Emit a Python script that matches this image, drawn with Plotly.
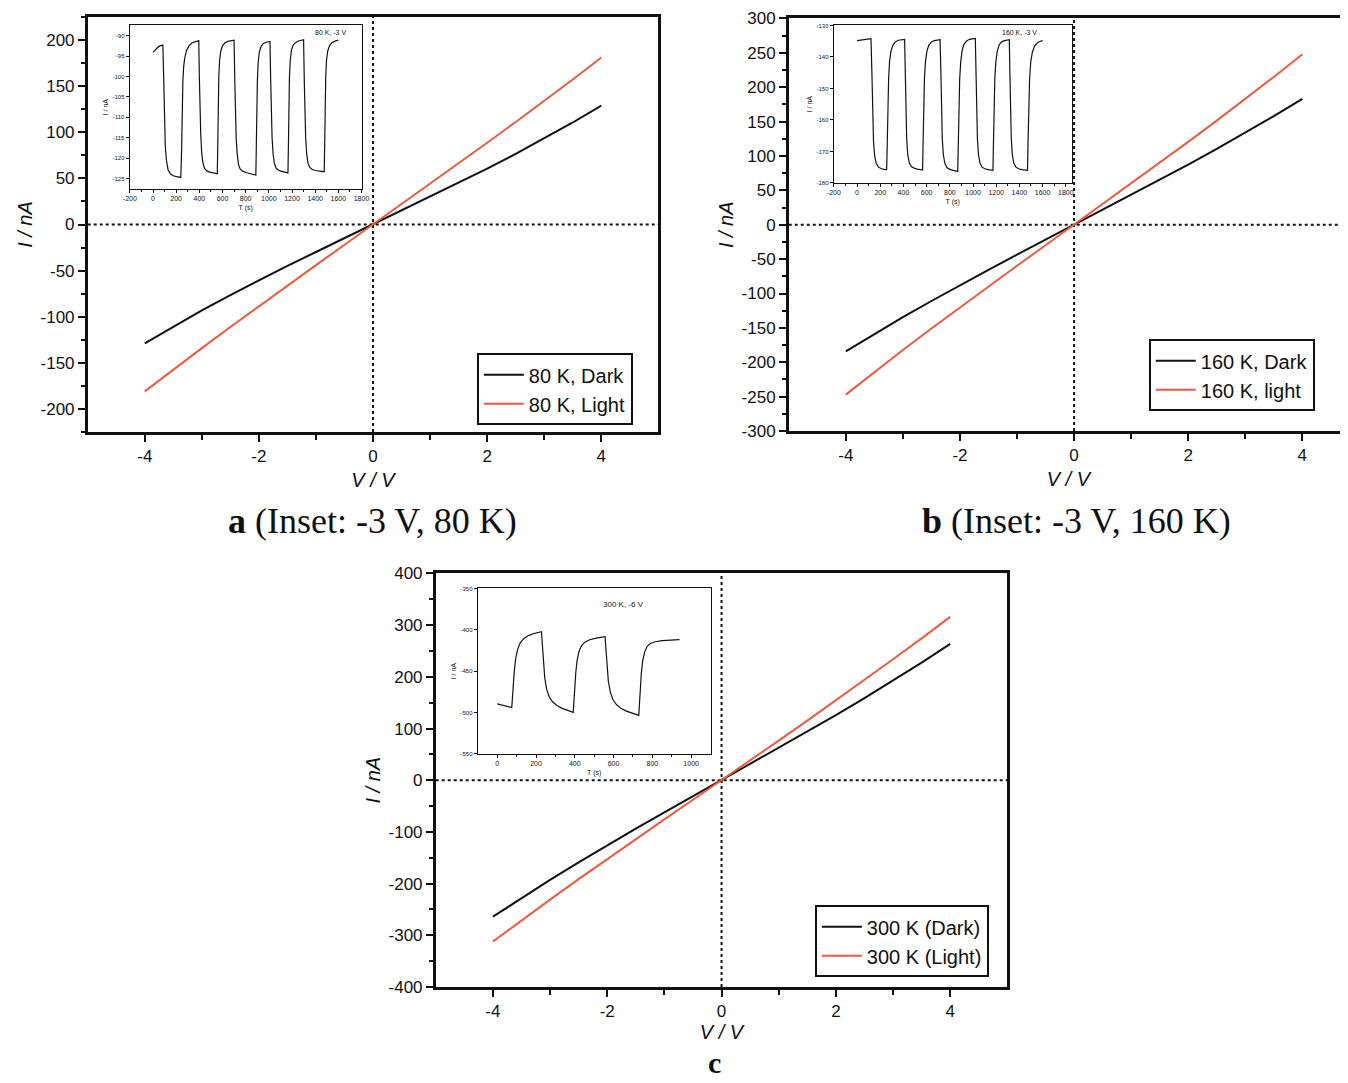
import plotly.graph_objects as go

# figure size; the photographed page maps figure pixel f to picture pixel ~ 0.986*f + 15.5
FW, FH = 1348, 1083
S, O = 0.986, 15.5

# ---------------- main I-V data ----------------
V = [-4, -3.5, -3, -2.5, -2, -1.5, -1, -0.5, 0, 0.5, 1, 1.5, 2, 2.5, 3, 3.5, 4]

a_dark = [-128.8, -110.6, -93.2, -76.5, -60.5, -44.9, -29.8, -14.8, 0,
          14.8, 29.8, 44.9, 60.5, 76.5, 93.2, 110.6, 128.8]
a_light = [-181.0, -157.3, -134.1, -111.2, -88.6, -66.2, -44.1, -22.0, 0,
           22.0, 44.1, 66.2, 88.6, 111.2, 134.1, 157.3, 181.0]

b_dark = [-184.1, -158.9, -134.5, -110.9, -88.0, -65.5, -43.5, -21.7, 0,
          21.6, 43.3, 65.2, 87.6, 110.4, 133.8, 158.1, 183.2]
b_light = [-247.1, -214.3, -182.3, -151.0, -120.1, -89.7, -59.6, -29.8, 0,
           29.9, 59.8, 89.9, 120.5, 151.5, 182.9, 215.0, 248.0]

c_dark = [-264.0, -227.7, -192.8, -158.9, -126.0, -93.8, -62.3, -31.0, 0,
          31.0, 62.3, 93.8, 126.0, 158.9, 192.8, 227.7, 264.0]
c_light = [-312.0, -271.0, -230.9, -191.3, -152.4, -113.9, -75.8, -37.8, 0,
           38.3, 76.7, 115.4, 154.4, 193.8, 234.0, 274.5, 316.0]

# ---------------- inset data ----------------
ia_t = [0, 20, 40, 60, 85,
        92, 98, 106, 116, 130, 150, 175, 205, 240,
        247, 252, 258, 265, 275, 290, 310, 335, 365, 395,
        400, 405, 412, 420, 430, 445, 465, 490, 520, 555,
        559, 563, 568, 575, 585, 600, 620, 645, 675, 700,
        706, 711, 718, 727, 738, 752, 772, 800, 840, 888,
        892, 896, 901, 908, 918, 933, 953, 975, 995, 1010,
        1016, 1021, 1028, 1037, 1048, 1062, 1082, 1110, 1140, 1165,
        1169, 1173, 1178, 1185, 1195, 1210, 1230, 1255, 1280, 1300,
        1306, 1311, 1318, 1327, 1338, 1352, 1372, 1400, 1440, 1478,
        1482, 1486, 1491, 1498, 1508, 1523, 1543, 1565, 1585, 1600]
ia_i = [-94.1, -93.4, -92.9, -92.5, -92.3,
        -100, -110, -117, -120.5, -122.8, -123.8, -124.3, -124.5, -124.7,
        -118, -108, -101, -97.5, -95.3, -93.6, -92.5, -91.8, -91.4, -91.2,
        -100, -108, -114, -118.5, -121, -122.5, -123.1, -123.4, -123.6, -123.8,
        -117, -107, -100, -96, -93.8, -92.5, -91.8, -91.4, -91.2, -91.1,
        -101, -109, -115, -119, -121.5, -122.6, -123.1, -123.5, -123.8, -124.1,
        -117, -108, -101, -96.5, -94, -92.6, -91.9, -91.6, -91.5, -91.4,
        -101, -109, -115, -119, -121.3, -122.4, -122.9, -123.2, -123.4, -123.6,
        -117, -107, -100, -96, -93.6, -92.3, -91.7, -91.3, -91.1, -91.0,
        -101, -109, -115, -119, -121.2, -122.2, -122.7, -123.0, -123.2, -123.3,
        -117, -107, -100, -96, -93.8, -92.5, -91.8, -91.4, -91.2, -91.1]

ib_t = [0, 40, 80, 120,
        128, 134, 142, 152, 165, 185, 210, 235, 255,
        260, 265, 272, 280, 292, 308, 330, 355, 385, 410,
        416, 421, 428, 437, 450, 468, 492, 520, 545, 565,
        569, 574, 581, 590, 602, 618, 640, 665, 692, 716,
        723, 728, 735, 744, 757, 775, 800, 830, 850, 868,
        873, 878, 885, 894, 906, 922, 944, 970, 995, 1020,
        1026, 1031, 1038, 1047, 1060, 1078, 1102, 1130, 1152, 1172,
        1176, 1181, 1188, 1197, 1209, 1225, 1247, 1272, 1295, 1313,
        1318, 1323, 1330, 1339, 1352, 1370, 1394, 1422, 1448, 1470,
        1474, 1480, 1488, 1498, 1512, 1530, 1552, 1575, 1600]
ib_i = [-134.8, -134.6, -134.4, -134.2,
        -145, -158, -167, -171.5, -173.8, -175, -175.5, -175.7, -175.8,
        -168, -156, -147, -141.5, -138.2, -136.3, -135.2, -134.7, -134.5, -134.4,
        -145, -157, -166, -171, -173.6, -174.8, -175.3, -175.6, -175.8, -175.9,
        -168, -156, -147, -141.5, -138.3, -136.3, -135.3, -134.8, -134.6, -134.5,
        -145, -157, -166, -171, -173.8, -175.1, -175.7, -176.0, -176.2, -176.4,
        -168, -156, -147, -141.5, -138, -136, -134.9, -134.4, -134.2, -134.1,
        -145, -157, -166, -171, -173.7, -175, -175.5, -175.8, -175.9, -176.0,
        -168, -156, -147, -141.5, -138.2, -136.2, -135.2, -134.8, -134.6, -134.5,
        -145, -157, -166, -171, -173.8, -175, -175.5, -175.8, -175.9, -176.0,
        -168, -156, -147, -141.5, -138.5, -136.6, -135.6, -135.1, -134.8]

ic_t = [0, 25, 50, 75,
        79, 83, 88, 95, 105, 118, 135, 160, 190, 228,
        233, 238, 245, 255, 268, 285, 308, 335, 365, 392,
        396, 400, 405, 412, 422, 435, 452, 477, 510, 556,
        561, 566, 573, 583, 596, 613, 636, 663, 695, 730,
        734, 738, 743, 750, 760, 773, 790, 815, 850, 895, 940]
ic_i = [-489.5, -491, -492.5, -494,
        -480, -465, -450, -435, -424, -416, -411, -407, -404.5, -402.3,
        -420, -440, -458, -472, -481, -487, -491.5, -495, -497.8, -499.8,
        -485, -468, -452, -437, -426, -419, -415, -412, -410, -408.4,
        -425, -445, -462, -475, -484, -490, -494.5, -498, -501, -503.5,
        -488, -470, -453, -438, -427, -420, -416.5, -414.5, -413.2, -412.5, -412]

# ---------------- tick labels ----------------
v_ticks = [-4, -2, 0, 2, 4]
v_ticktext = ["-4", "-2", "0", "2", "4"]
v_minor = [-3, -1, 1, 3]

a_yticks = [-200, -150, -100, -50, 0, 50, 100, 150, 200]
a_yticktext = ["-200", "-150", "-100", "-50", "0", "50", "100", "150", "200"]
a_yminor = [-225, -175, -125, -75, -25, 25, 75, 125, 175, 225]

b_yticks = [-300, -250, -200, -150, -100, -50, 0, 50, 100, 150, 200, 250, 300]
b_yticktext = ["-300", "-250", "-200", "-150", "-100", "-50", "0", "50", "100", "150", "200", "250", "300"]
b_yminor = [-275, -225, -175, -125, -75, -25, 25, 75, 125, 175, 225, 275]

c_yticks = [-400, -300, -200, -100, 0, 100, 200, 300, 400]
c_yticktext = ["-400", "-300", "-200", "-100", "0", "100", "200", "300", "400"]
c_yminor = [-350, -250, -150, -50, 50, 150, 250, 350]

t_ticks = [-200, 0, 200, 400, 600, 800, 1000, 1200, 1400, 1600, 1800]
t_ticktext = ["-200", "0", "200", "400", "600", "800", "1000", "1200", "1400", "1600", "1800"]
t_minor = [-100, 100, 300, 500, 700, 900, 1100, 1300, 1500, 1700]

tc_ticks = [0, 200, 400, 600, 800, 1000]
tc_ticktext = ["0", "200", "400", "600", "800", "1000"]
tc_minor = [100, 300, 500, 700, 900]

ia_yticks = [-125, -120, -115, -110, -105, -100, -95, -90]
ia_yticktext = ["-125", "-120", "-115", "-110", "-105", "-100", "-95", "-90"]
ib_yticks = [-180, -170, -160, -150, -140, -130]
ib_yticktext = ["-180", "-170", "-160", "-150", "-140", "-130"]
ic_yticks = [-550, -500, -450, -400, -350]
ic_yticktext = ["-550", "-500", "-450", "-400", "-350"]

leg_a = ["80 K, Dark", "80 K, Light"]
leg_b = ["160 K, Dark", "160 K, light"]
leg_c = ["300 K (Dark)", "300 K (Light)"]
inset_labels = ["80 K, -3 V", "160 K, -3 V", "300 K, -6 V"]
captions = ["<b>a</b> (Inset: -3 V, 80 K)", "<b>b</b> (Inset: -3 V, 160 K)", "<b>c</b>"]

BLACK = "#111111"
RED = "#f05a3c"
SANS = "Liberation Sans, Arial, sans-serif"
SERIF = "Liberation Serif, Times New Roman, serif"


def px(x):
    return min(1.0, max(0.0, (x - O) / S / FW))


def py(y):
    return min(1.0, max(0.0, 1 - (y - O) / S / FH))


fig = go.Figure()

fig.add_trace(go.Scatter(x=V, y=a_dark, mode="lines", name=leg_a[0], line=dict(color=BLACK, width=2),
                         xaxis="x", yaxis="y", legend="legend"))
fig.add_trace(go.Scatter(x=V, y=a_light, mode="lines", name=leg_a[1], line=dict(color=RED, width=2),
                         xaxis="x", yaxis="y", legend="legend"))
fig.add_trace(go.Scatter(x=V, y=b_dark, mode="lines", name=leg_b[0], line=dict(color=BLACK, width=2),
                         xaxis="x2", yaxis="y2", legend="legend2"))
fig.add_trace(go.Scatter(x=V, y=b_light, mode="lines", name=leg_b[1], line=dict(color=RED, width=2),
                         xaxis="x2", yaxis="y2", legend="legend2"))
fig.add_trace(go.Scatter(x=V, y=c_dark, mode="lines", name=leg_c[0], line=dict(color=BLACK, width=2),
                         xaxis="x3", yaxis="y3", legend="legend3"))
fig.add_trace(go.Scatter(x=V, y=c_light, mode="lines", name=leg_c[1], line=dict(color=RED, width=2),
                         xaxis="x3", yaxis="y3", legend="legend3"))

fig.add_trace(go.Scatter(x=ia_t, y=ia_i, mode="lines", line=dict(color=BLACK, width=1.2),
                         xaxis="x4", yaxis="y4", showlegend=False))
fig.add_trace(go.Scatter(x=ib_t, y=ib_i, mode="lines", line=dict(color=BLACK, width=1.2),
                         xaxis="x5", yaxis="y5", showlegend=False))
fig.add_trace(go.Scatter(x=ic_t, y=ic_i, mode="lines", line=dict(color=BLACK, width=1.2),
                         xaxis="x6", yaxis="y6", showlegend=False))


def main_x(domain, rng, anchor, standoff=8):
    return dict(domain=domain, range=rng, anchor=anchor, showline=True, linewidth=2.5, linecolor=BLACK,
                mirror=True, ticks="outside", ticklen=7, tickwidth=2, tickcolor=BLACK,
                tickmode="array", tickvals=v_ticks, ticktext=v_ticktext, showgrid=False, zeroline=False,
                minor=dict(tickvals=v_minor, ticks="outside", ticklen=5, tickwidth=2, tickcolor=BLACK,
                           showgrid=False),
                tickfont=dict(family=SANS, size=17, color=BLACK),
                title=dict(text="<i>V / V</i>", font=dict(family=SANS, size=20, color=BLACK), standoff=standoff))


def main_y(domain, rng, anchor, tv, tt, mv, mirror=True):
    return dict(domain=domain, range=rng, anchor=anchor, showline=True, linewidth=2.5, linecolor=BLACK,
                mirror=mirror, ticks="outside", ticklen=7, tickwidth=2, tickcolor=BLACK,
                tickmode="array", tickvals=tv, ticktext=tt, showgrid=False, zeroline=False,
                minor=dict(tickvals=mv, ticks="outside", ticklen=4, tickwidth=2, tickcolor=BLACK,
                           showgrid=False),
                tickfont=dict(family=SANS, size=17, color=BLACK),
                title=dict(text="<i>I / nA</i>", font=dict(family=SANS, size=20, color=BLACK), standoff=3))


def inset_x(domain, rng, anchor, tv, tt, mv):
    return dict(domain=domain, range=rng, anchor=anchor, showline=True, linewidth=1.3, linecolor=BLACK,
                mirror=True, ticks="outside", ticklen=3, tickwidth=1, tickcolor=BLACK,
                tickmode="array", tickvals=tv, ticktext=tt, showgrid=False, zeroline=False,
                minor=dict(tickvals=mv, ticks="outside", ticklen=2, tickwidth=1, tickcolor=BLACK),
                tickfont=dict(family=SANS, size=7, color=BLACK),
                title=dict(text="T (s)", font=dict(family=SANS, size=7, color=BLACK), standoff=3))


def inset_y(domain, rng, anchor, tv, tt):
    return dict(domain=domain, range=rng, anchor=anchor, showline=True, linewidth=1.3, linecolor=BLACK,
                mirror=True, ticks="outside", ticklen=3, tickwidth=1, tickcolor=BLACK,
                tickmode="array", tickvals=tv, ticktext=tt, showgrid=False, zeroline=False,
                tickfont=dict(family=SANS, size=6, color=BLACK),
                title=dict(text="I / nA", font=dict(family=SANS, size=7, color=BLACK), standoff=3))


fig.update_layout(
    xaxis=main_x([px(88), px(657)], [-5, 5], "y"),
    yaxis=main_y([py(432), py(13)], [-225, 225], "x", a_yticks, a_yticktext, a_yminor),
    xaxis2=main_x([px(787), 1.0], [-5, 4.80], "y2"),
    yaxis2=main_y([py(431), py(17)], [-300, 300], "x2", b_yticks, b_yticktext, b_yminor, mirror=False),
    xaxis3=main_x([px(435), px(1005)], [-5, 5], "y3", standoff=3),
    yaxis3=main_y([py(989), py(574)], [-400, 400], "x3", c_yticks, c_yticktext, c_yminor),
    xaxis4=inset_x([px(130), px(361)], [-200, 1800], "y4", t_ticks, t_ticktext, t_minor),
    yaxis4=inset_y([py(188), py(24)], [-127.5, -87.5], "x4", ia_yticks, ia_yticktext),
    xaxis5=inset_x([px(832), px(1069)], [-200, 1850], "y5", t_ticks, t_ticktext, t_minor),
    yaxis5=inset_y([py(182), py(24)], [-180, -130], "x5", ib_yticks, ib_yticktext),
    xaxis6=inset_x([px(477), px(709)], [-100, 1100], "y6", tc_ticks, tc_ticktext, tc_minor),
    yaxis6=inset_y([py(755), py(589)], [-550, -350], "x6", ic_yticks, ic_yticktext),
)

legend_common = dict(bgcolor="white", bordercolor=BLACK, borderwidth=2,
                     font=dict(family=SANS, size=20, color=BLACK),
                     xanchor="left", yanchor="top", tracegroupgap=0, itemwidth=40)
fig.update_layout(
    legend=dict(x=px(476), y=py(353), **legend_common),
    legend2=dict(x=px(1146), y=py(339), **legend_common),
    legend3=dict(x=px(813), y=py(907), **legend_common),
)

shapes = []
for xr, yr in [("x", "y"), ("x2", "y2"), ("x3", "y3")]:
    shapes.append(dict(type="line", xref=xr, yref=yr + " domain", x0=0, x1=0, y0=0, y1=1,
                       line=dict(color=BLACK, width=2, dash="dot"), layer="below"))
    shapes.append(dict(type="line", xref=xr + " domain", yref=yr, x0=0, x1=1, y0=0, y1=0,
                       line=dict(color=BLACK, width=2, dash="dot"), layer="below"))
fig.update_layout(shapes=shapes)


def note(text, x, y, size, family=SANS):
    return dict(text=text, x=px(x), y=py(y), xref="paper", yref="paper", showarrow=False,
                xanchor="center", yanchor="middle", font=dict(family=family, size=size, color=BLACK))


fig.update_layout(annotations=[
    note(inset_labels[0], 330, 31, 7),
    note(inset_labels[1], 1017, 31, 7),
    note(inset_labels[2], 622, 605, 8),
    note(captions[0], 372, 521, 36, SERIF),
    note(captions[1], 1074, 521, 36, SERIF),
    note(captions[2], 713, 1065, 30, SERIF),
])

fig.update_layout(width=FW, height=FH, margin=dict(l=0, r=0, t=0, b=0),
                  paper_bgcolor="white", plot_bgcolor="white", showlegend=True)

fig.write_html("out.html")
